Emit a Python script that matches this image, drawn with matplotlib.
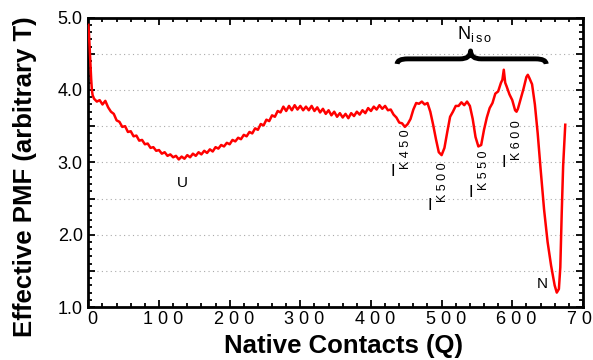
import matplotlib
matplotlib.use("Agg")
import matplotlib.pyplot as plt
import matplotlib.transforms as mtransforms
from matplotlib.path import Path
from matplotlib.patches import PathPatch
from matplotlib.ticker import MultipleLocator, FuncFormatter

# effective PMF along the native-contact coordinate
q_contacts = [0, 1, 2, 3, 4, 5, 6,
              8, 12, 16, 20, 24, 28, 32, 36, 40, 44, 48, 52, 56, 60, 64, 68, 72, 76, 80, 84, 88, 92, 96,
              100, 104, 108, 112, 116, 120, 124, 128, 132, 136, 140, 144, 148, 152, 156, 160, 164, 168, 172, 176,
              180, 184, 188, 192, 196, 200, 204, 208, 212, 216, 220, 224, 228, 232, 236, 240, 244, 248, 252, 256,
              260, 264, 268, 272, 276, 280, 284, 288, 292, 296, 300, 304, 308, 312, 316, 320, 324, 328, 332, 336,
              340, 344, 348, 352, 356, 360, 364, 368, 372, 376, 380, 384, 388, 392, 396, 400, 404, 408, 412, 416,
              420, 424, 428, 432, 436, 440, 444, 448, 452, 456, 460, 464, 468, 472, 476, 480, 484, 488, 492, 496,
              500, 504, 508, 512, 516, 520, 524, 528, 532, 536, 540, 544, 548, 552, 556, 560, 564, 568, 572, 576,
              580, 584, 586, 588, 590, 592, 596, 600, 604, 606, 608, 612, 616, 620, 622, 624, 628, 632, 636, 640,
              645, 650, 655, 660, 663, 666, 668, 670, 672, 675]
pmf_values = [4.90, 4.75, 4.55, 4.35, 4.15, 4.00, 3.93,
              3.88, 3.84, 3.86, 3.80, 3.85, 3.76, 3.70, 3.67, 3.58, 3.56, 3.49, 3.50, 3.42, 3.43, 3.36, 3.37, 3.30, 3.31, 3.25, 3.26, 3.20, 3.21, 3.16,
              3.17, 3.12, 3.14, 3.09, 3.11, 3.07, 3.09, 3.04, 3.08, 3.05, 3.10, 3.07, 3.12, 3.09, 3.14, 3.11, 3.16, 3.13, 3.18, 3.15,
              3.21, 3.19, 3.24, 3.22, 3.27, 3.25, 3.31, 3.29, 3.34, 3.32, 3.38, 3.36, 3.42, 3.40, 3.47, 3.45, 3.53, 3.51, 3.59, 3.57,
              3.65, 3.63, 3.71, 3.69, 3.77, 3.71, 3.78, 3.72, 3.79, 3.73, 3.78, 3.72, 3.77, 3.72, 3.78, 3.71, 3.76, 3.69, 3.74, 3.67,
              3.72, 3.65, 3.70, 3.63, 3.68, 3.62, 3.67, 3.61, 3.68, 3.64, 3.70, 3.66, 3.72, 3.68, 3.75, 3.71, 3.77, 3.73, 3.79, 3.74,
              3.78, 3.72, 3.73, 3.66, 3.62, 3.55, 3.54, 3.49, 3.53, 3.60, 3.73, 3.82, 3.81, 3.84, 3.80, 3.82, 3.70, 3.52, 3.32, 3.14,
              3.10, 3.20, 3.42, 3.63, 3.70, 3.78, 3.78, 3.83, 3.79, 3.84, 3.78, 3.60, 3.35, 3.22, 3.24, 3.45, 3.62, 3.75, 3.82, 3.95,
              3.98, 4.10, 4.14, 4.28, 4.10, 4.05, 3.94, 3.86, 3.72, 3.70, 3.74, 3.88, 4.02, 4.18, 4.21, 4.17, 4.08, 3.80, 3.40, 2.92,
              2.35, 1.90, 1.57, 1.30, 1.20, 1.25, 1.55, 2.30, 2.95, 3.52]

# intermediate labels: position of the upright "I"
inter_names = ["450", "500", "550", "600"]
inter_q = [431, 483, 541, 588]
inter_pmf = [2.87, 2.41, 2.58, 3.00]

plt.rcParams["font.family"] = ["Liberation Sans", "DejaVu Sans"]

fig = plt.figure(figsize=(5.93, 3.6), dpi=100)
ax = fig.add_axes([0.149, 0.147, 0.834, 0.804])
ax.plot(q_contacts, pmf_values, color="#ff0000", lw=1.8, zorder=3)

ax.set_xlim(0, 700)
ax.set_ylim(1.0, 5.0)
ax.xaxis.set_major_locator(MultipleLocator(100))
ax.xaxis.set_minor_locator(MultipleLocator(20))
ax.yaxis.set_major_locator(MultipleLocator(0.5))
ax.yaxis.set_minor_locator(MultipleLocator(0.1))
ax.xaxis.set_major_formatter(FuncFormatter(lambda v, p: " ".join(str(int(round(v))))))
ax.yaxis.set_major_formatter(FuncFormatter(lambda v, p: f"{v:.1f}" if abs(v - round(v)) < 1e-6 else ""))
ax.tick_params(which="both", direction="in", top=True, right=True, width=1.3, labelsize=13)
ax.tick_params(which="major", length=5)
ax.tick_params(which="minor", length=3)
ax.tick_params(axis="x", pad=3)
ax.tick_params(axis="y", pad=4)
for lab in ax.get_xticklabels():
    lab.set_transform(lab.get_transform() + mtransforms.ScaledTranslation(3 / 72, 0, fig.dpi_scale_trans))
for s in ax.spines.values():
    s.set_linewidth(2)
ax.yaxis.grid(True, which="major", ls=(0, (1, 3)), color="#aaaaaa", lw=0.8)
ax.set_axisbelow(True)

ax.set_xlabel("Native Contacts (Q)", fontsize=18.5, fontweight="bold")
ax.set_ylabel("Effective PMF (arbitrary T)", fontsize=18.5, fontweight="bold")
ax.xaxis.set_label_coords(0.516, -0.093)
ax.yaxis.set_label_coords(-0.104, 0.45)

# state labels
ax.text(133, 2.72, "U", fontsize=11, ha="center", va="center")
ax.text(643, 1.32, "N", fontsize=11, ha="center", va="center")
ax.text(547, 4.77, r"N$_{\mathregular{i\,s\,o}}$", fontsize=13, ha="center", va="center")

for nm, q, v in zip(inter_names, inter_q, inter_pmf):
    ax.text(q, v, "I", fontsize=12, ha="center", va="center")
    ax.annotate("K " + " ".join(nm), (q, v), xytext=(9.5, 2), textcoords="offset points",
                fontsize=9, rotation=90, ha="center", va="bottom")

# curly brace over the isolated native-like states
verts = [(437, 4.36), (437, 4.43), (452, 4.43), (526, 4.43), (541, 4.43), (541, 4.54),
         (541, 4.43), (556, 4.43), (633, 4.43), (648, 4.43), (648, 4.36)]
codes = [Path.MOVETO, Path.CURVE3, Path.CURVE3, Path.LINETO, Path.CURVE3, Path.CURVE3,
         Path.CURVE3, Path.CURVE3, Path.LINETO, Path.CURVE3, Path.CURVE3]
ax.add_patch(PathPatch(Path(verts, codes), fill=False, lw=3.5, color="black",
                       capstyle="butt", joinstyle="round", clip_on=False))

fig.savefig("out.png", dpi=100)
